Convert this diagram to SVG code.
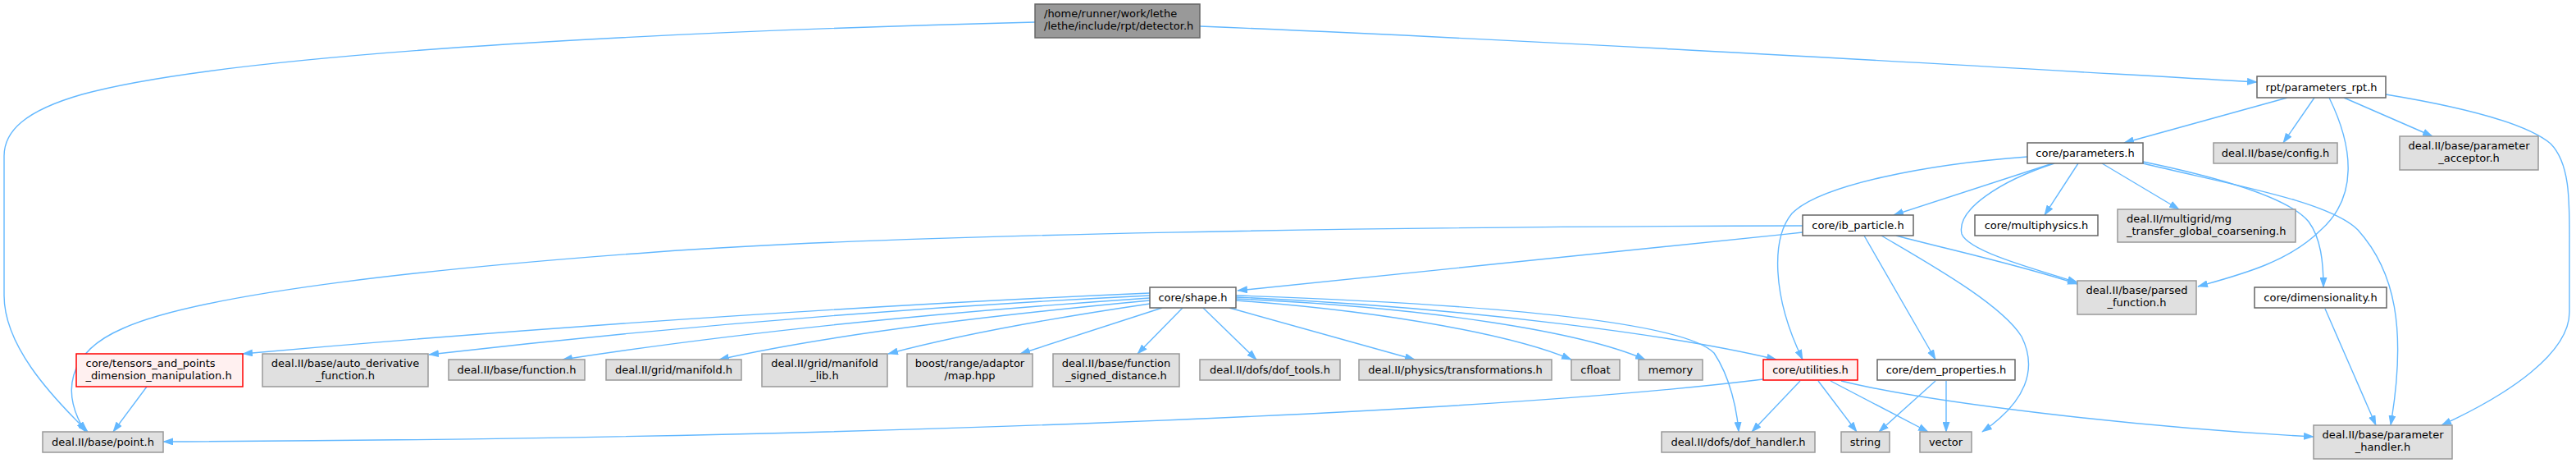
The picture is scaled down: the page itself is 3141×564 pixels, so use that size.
<svg xmlns="http://www.w3.org/2000/svg" width="3141" height="564" viewBox="0 0 3141 564">
<style>
.e{fill:none;stroke:#63B8FF;stroke-width:1.4;marker-end:url(#a)}
.n rect{stroke-width:1.5}
.g rect{fill:#E0E0E0;stroke:#999999}
.w rect{fill:#FFFFFF;stroke:#666666}
.r rect{fill:#FFF0F0;stroke:#FF0000}
.root rect{fill:#999999;stroke:#666666}
text{font-family:"DejaVu Sans","Liberation Sans",sans-serif;font-size:13px;fill:#000000}
.c{text-anchor:middle}
</style>
<defs>
<marker id="a" viewBox="0 0 13 9" refX="12" refY="4.5" markerWidth="13" markerHeight="9" markerUnits="userSpaceOnUse" orient="auto">
<path d="M0,0 L13,4.5 L0,9 Z" fill="#63B8FF"/>
</marker>
</defs>
<rect width="3141" height="564" fill="#FFFFFF"/>
<g id="edges">
<path class="e" d="M1262,27 C900,36 300,60 100,115 C30,135 5,160 5,190 L5,360 C5,420 60,480 107,526"/>
<path class="e" d="M1463,32 C1900,50 2400,80 2752,100"/>
<path class="e" d="M2789,119 L2590,174"/>
<path class="e" d="M2822,119 L2784,174"/>
<path class="e" d="M2858,119 L2966,166"/>
<path class="e" d="M2840,119 C2870,180 2875,240 2830,280 C2790,320 2730,335 2680,349"/>
<path class="e" d="M2909,115 C3000,130 3080,150 3110,175 C3135,200 3133,250 3133,300 L3133,380 C3133,430 3060,480 2977,518"/>
<path class="e" d="M2503,199 L2309,262"/>
<path class="e" d="M2472,191 C2350,200 2220,225 2185,260 C2160,290 2160,360 2198,438"/>
<path class="e" d="M2534,199 L2493,262"/>
<path class="e" d="M2563,199 L2657,255"/>
<path class="e" d="M2505,199 C2440,220 2385,255 2392,285 C2400,305 2470,325 2533,344"/>
<path class="e" d="M2613,197 C2700,215 2790,240 2815,270 C2830,290 2833,320 2833,350"/>
<path class="e" d="M2613,199 C2720,225 2840,245 2875,280 C2920,330 2935,400 2915,518"/>
<path class="e" d="M2198,283 C1950,310 1700,335 1509,354"/>
<path class="e" d="M2198,275 C1700,276 1100,285 800,307 C550,325 250,355 150,400 C80,430 75,480 104,526"/>
<path class="e" d="M2273,287 L2360,438"/>
<path class="e" d="M2294,287 C2350,320 2440,370 2465,410 C2485,450 2470,490 2417,526"/>
<path class="e" d="M2312,287 C2380,305 2460,322 2533,346"/>
<path class="e" d="M1402,357 C1100,370 700,395 296,431"/>
<path class="e" d="M1402,360 C1100,375 800,400 523,432"/>
<path class="e" d="M1402,363 C1150,380 900,405 686,438"/>
<path class="e" d="M1402,366 C1200,385 1000,410 877,438"/>
<path class="e" d="M1402,370 C1300,385 1180,405 1083,431"/>
<path class="e" d="M1417,375 L1244,431"/>
<path class="e" d="M1442,375 L1387,431"/>
<path class="e" d="M1467,375 L1532,438"/>
<path class="e" d="M1499,375 L1725,438"/>
<path class="e" d="M1507,366 C1700,380 1850,410 1916,438"/>
<path class="e" d="M1507,364 C1750,375 1930,405 2006,438"/>
<path class="e" d="M1507,362 C1800,375 2050,410 2166,438"/>
<path class="e" d="M1507,360 C1800,370 2050,390 2090,430 C2110,460 2118,500 2120,526"/>
<path class="e" d="M2150,462 C1800,505 1000,535 199,538"/>
<path class="e" d="M2195,464 L2136,526"/>
<path class="e" d="M2217,464 L2264,526"/>
<path class="e" d="M2232,464 L2351,526"/>
<path class="e" d="M2245,464 C2350,490 2600,520 2821,532"/>
<path class="e" d="M2360,464 L2291,526"/>
<path class="e" d="M2373,464 L2373,526"/>
<path class="e" d="M2835,376 L2897,518"/>
<path class="e" d="M179,471 L138,526"/>
</g>
<g id="detector" class="n root"><rect x="1262" y="5" width="201" height="41"/><text x="1273" y="21">/home/runner/work/lethe</text><text x="1273" y="36">/lethe/include/rpt/detector.h</text></g>
<g id="parameters_rpt" class="n w"><rect x="2752" y="93" width="157" height="26"/><text class="c" x="2830.5" y="110.5">rpt/parameters_rpt.h</text></g>
<g id="parameters" class="n w"><rect x="2472" y="174" width="141" height="25"/><text class="c" x="2542.5" y="191">core/parameters.h</text></g>
<g id="config" class="n g"><rect x="2699" y="174" width="151" height="25"/><text class="c" x="2774.5" y="191">deal.II/base/config.h</text></g>
<g id="parameter_acceptor" class="n g"><rect x="2926" y="166" width="169" height="41"/><text class="c" x="3010.5" y="182">deal.II/base/parameter</text><text class="c" x="3010.5" y="197">_acceptor.h</text></g>
<g id="multiphysics" class="n w"><rect x="2408" y="262" width="150" height="25"/><text class="c" x="2483" y="279">core/multiphysics.h</text></g>
<g id="mg_transfer" class="n g"><rect x="2582" y="255" width="217" height="40"/><text x="2593" y="271">deal.II/multigrid/mg</text><text x="2593" y="286">_transfer_global_coarsening.h</text></g>
<g id="ib_particle" class="n w"><rect x="2198" y="262" width="135" height="25"/><text class="c" x="2265.5" y="279">core/ib_particle.h</text></g>
<g id="dimensionality" class="n w"><rect x="2749" y="350" width="161" height="25"/><text class="c" x="2829.5" y="367">core/dimensionality.h</text></g>
<g id="parsed_function" class="n g"><rect x="2533" y="342" width="145" height="41"/><text class="c" x="2605.5" y="358">deal.II/base/parsed</text><text class="c" x="2605.5" y="373">_function.h</text></g>
<g id="shape" class="n w"><rect x="1402" y="350" width="105" height="25"/><text class="c" x="1454.5" y="367">core/shape.h</text></g>
<g id="tensors" class="n r"><rect x="93" y="431" width="203" height="40"/><text x="104.5" y="447">core/tensors_and_points</text><text x="104.5" y="462">_dimension_manipulation.h</text></g>
<g id="auto_derivative" class="n g"><rect x="320" y="431" width="202" height="40"/><text class="c" x="421" y="447">deal.II/base/auto_derivative</text><text class="c" x="421" y="462">_function.h</text></g>
<g id="function" class="n g"><rect x="547" y="438" width="166" height="25"/><text class="c" x="630" y="455">deal.II/base/function.h</text></g>
<g id="manifold" class="n g"><rect x="739" y="438" width="165" height="25"/><text class="c" x="821.5" y="455">deal.II/grid/manifold.h</text></g>
<g id="manifold_lib" class="n g"><rect x="929" y="431" width="153" height="40"/><text class="c" x="1005.5" y="447">deal.II/grid/manifold</text><text class="c" x="1005.5" y="462">_lib.h</text></g>
<g id="map_hpp" class="n g"><rect x="1106" y="431" width="153" height="40"/><text class="c" x="1182.5" y="447">boost/range/adaptor</text><text class="c" x="1182.5" y="462">/map.hpp</text></g>
<g id="signed_distance" class="n g"><rect x="1284" y="431" width="154" height="40"/><text class="c" x="1361" y="447">deal.II/base/function</text><text class="c" x="1361" y="462">_signed_distance.h</text></g>
<g id="dof_tools" class="n g"><rect x="1463" y="438" width="171" height="25"/><text class="c" x="1548.5" y="455">deal.II/dofs/dof_tools.h</text></g>
<g id="transformations" class="n g"><rect x="1657" y="438" width="235" height="25"/><text class="c" x="1774.5" y="455">deal.II/physics/transformations.h</text></g>
<g id="cfloat" class="n g"><rect x="1916" y="438" width="59" height="25"/><text class="c" x="1945.5" y="455">cfloat</text></g>
<g id="memory" class="n g"><rect x="1998" y="438" width="78" height="25"/><text class="c" x="2037" y="455">memory</text></g>
<g id="utilities" class="n r"><rect x="2150" y="438" width="115" height="25"/><text class="c" x="2207.5" y="455">core/utilities.h</text></g>
<g id="dem_properties" class="n w"><rect x="2289" y="438" width="168" height="25"/><text class="c" x="2373" y="455">core/dem_properties.h</text></g>
<g id="point" class="n g"><rect x="52" y="526" width="147" height="25"/><text class="c" x="125.5" y="543">deal.II/base/point.h</text></g>
<g id="dof_handler" class="n g"><rect x="2026" y="526" width="187" height="25"/><text class="c" x="2119.5" y="543">deal.II/dofs/dof_handler.h</text></g>
<g id="string" class="n g"><rect x="2245" y="526" width="59" height="25"/><text class="c" x="2274.5" y="543">string</text></g>
<g id="vector" class="n g"><rect x="2341" y="526" width="63" height="25"/><text class="c" x="2372.5" y="543">vector</text></g>
<g id="parameter_handler" class="n g"><rect x="2821" y="518" width="169" height="41"/><text class="c" x="2905.5" y="534">deal.II/base/parameter</text><text class="c" x="2905.5" y="549">_handler.h</text></g>
</svg>
